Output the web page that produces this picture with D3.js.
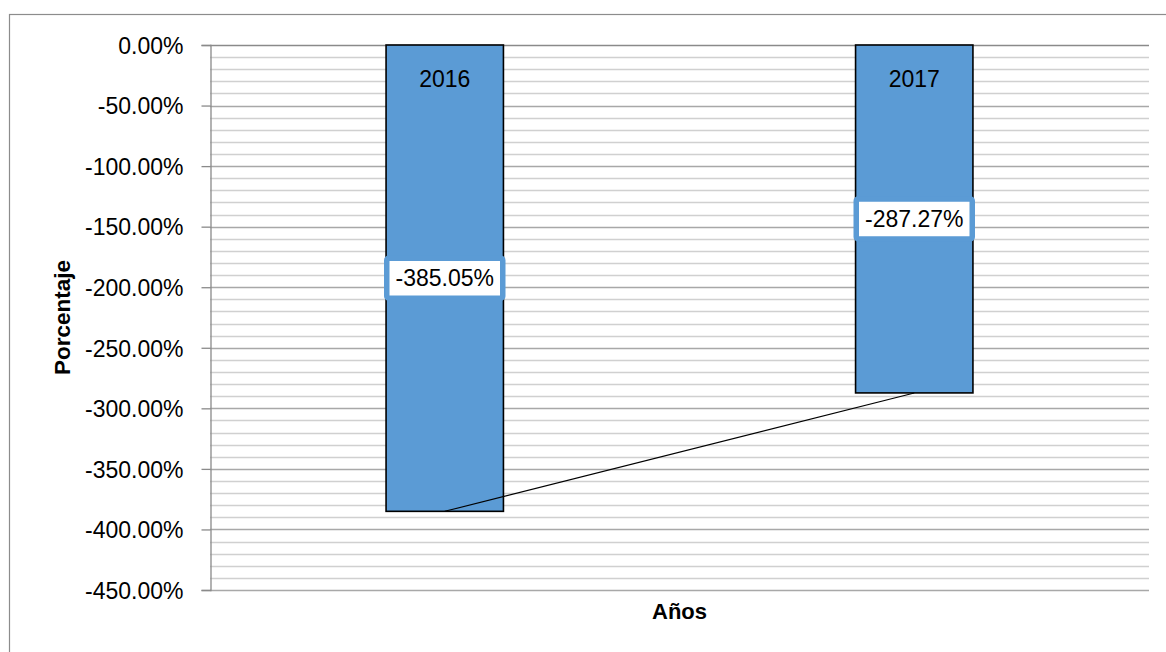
<!DOCTYPE html>
<html>
<head>
<meta charset="utf-8">
<script src="https://cdn.jsdelivr.net/npm/d3@7"></script>
<style>
  html, body { margin: 0; padding: 0; background: #fff; }
  svg { display: block; font-family: "Liberation Sans", Arial, sans-serif; }
</style>
</head>
<body>
<svg id="chart" width="1166" height="652"></svg>
<script>
const categories = ["2016", "2017"];
const values = [-385.05, -287.27];
const valueLabels = ["-385.05%", "-287.27%"];
const yTicks = [0, -50, -100, -150, -200, -250, -300, -350, -400, -450];
const yMinorTicks = d3.range(0, -451, -10);
const yTitle = "Porcentaje";
const xTitle = "Años";

const svg = d3.select("#chart");
const m = { left: 210, right: 1149, top: 45, bottom: 590 };

// outer frame
svg.append("rect").attr("x", 9.5).attr("y", 14.5).attr("width", 1200).attr("height", 700)
  .attr("fill", "#fff").attr("stroke", "#8c8c8c").attr("stroke-width", 1.2);

const x = d3.scaleBand().domain(categories).range([m.left, m.right]).paddingInner(0.75).paddingOuter(0.375);
const y = d3.scaleLinear().domain([0, -450]).range([m.top, m.bottom]);

// minor gridlines
svg.append("g").selectAll("line").data(yMinorTicks.filter(v => v % 50 !== 0)).join("line")
  .attr("x1", m.left).attr("x2", m.right)
  .attr("y1", d => Math.round(y(d)) + 0.5).attr("y2", d => Math.round(y(d)) + 0.5)
  .attr("stroke", "#d0d0d0").attr("stroke-width", 1.3);

// major gridlines
svg.append("g").selectAll("line").data(yTicks).join("line")
  .attr("x1", m.left).attr("x2", m.right)
  .attr("y1", d => Math.round(y(d)) + 0.5).attr("y2", d => Math.round(y(d)) + 0.5)
  .attr("stroke", d => d === 0 ? "#8a8a8a" : "#a8a8a8").attr("stroke-width", 1.3);

// y axis
const fmt = d => (d < 0 ? "-" : "") + Math.abs(d).toFixed(2) + "%";
const yAxis = d3.axisLeft(y).tickValues(yTicks).tickSize(9).tickPadding(18).tickFormat(fmt);
const ga = svg.append("g").attr("transform", `translate(${m.left + 0.5},0)`).call(yAxis);
ga.select(".domain").attr("stroke", "#8a8a8a").attr("stroke-width", 1.3);
ga.selectAll(".tick line").attr("stroke", "#8a8a8a").attr("stroke-width", 1.3);
ga.selectAll(".tick text").attr("font-size", 23).attr("fill", "#000")
  .attr("font-family", "Liberation Sans, Arial, sans-serif").attr("dy", "0.36em");

// bars
svg.append("g").selectAll("rect").data(values).join("rect")
  .attr("x", (d, i) => x(categories[i]))
  .attr("y", d => y(0))
  .attr("width", x.bandwidth())
  .attr("height", d => y(d) - y(0))
  .attr("fill", "#5b9bd5").attr("stroke", "#000").attr("stroke-width", 1.6);

// category labels in bars
svg.append("g").selectAll("text").data(categories).join("text")
  .attr("x", d => x(d) + x.bandwidth() / 2)
  .attr("y", 87)
  .attr("text-anchor", "middle").attr("font-size", 23).attr("fill", "#000")
  .text(d => d);

// connecting line
const line = d3.line().x((d, i) => x(categories[i]) + x.bandwidth() / 2).y(d => y(d));
svg.append("path").datum(values).attr("d", line)
  .attr("fill", "none").attr("stroke", "#000").attr("stroke-width", 1.1);

// value labels
const lg = svg.append("g").selectAll("g").data(values).join("g")
  .attr("transform", (d, i) => `translate(${x(categories[i]) + x.bandwidth() / 2},${(y(0) + y(d)) / 2})`);
lg.append("rect").attr("x", -58).attr("y", -20).attr("width", 116).attr("height", 40)
  .attr("rx", 2).attr("fill", "#fff").attr("stroke", "#5b9bd5").attr("stroke-width", 5.5);
lg.append("text").attr("x", 0).attr("y", 0).attr("dy", "0.36em")
  .attr("text-anchor", "middle").attr("font-size", 23).attr("fill", "#000")
  .text((d, i) => valueLabels[i]);

// axis titles
svg.append("text").attr("transform", `translate(70,${(m.top + m.bottom) / 2}) rotate(-90)`)
  .attr("text-anchor", "middle").attr("font-size", 22.5).attr("font-weight", "bold").text(yTitle);
svg.append("text").attr("x", (m.left + m.right) / 2).attr("y", 619)
  .attr("text-anchor", "middle").attr("font-size", 22).attr("font-weight", "bold").text(xTitle);
</script>
</body>
</html>
